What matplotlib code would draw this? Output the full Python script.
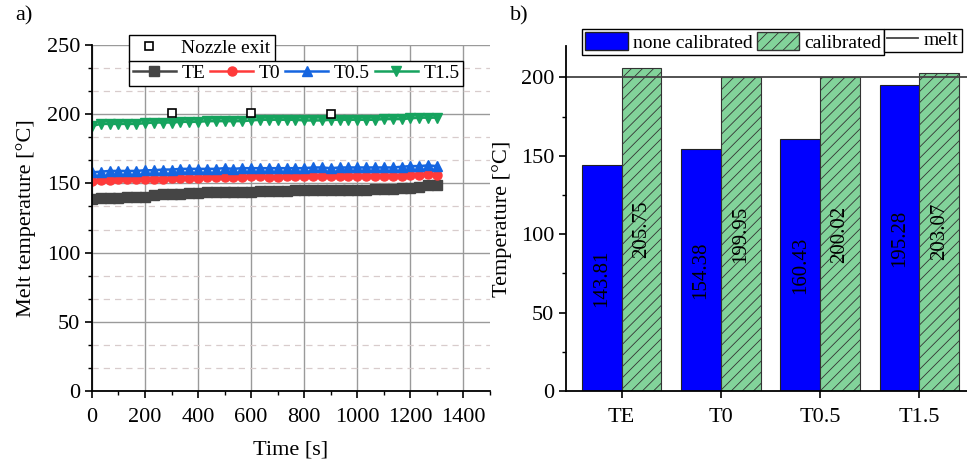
import numpy as np
import matplotlib
matplotlib.use("Agg")
import matplotlib.pyplot as plt
from matplotlib.ticker import MultipleLocator
from matplotlib.patches import Patch
from matplotlib.lines import Line2D

plt.rcParams["font.family"] = ["Liberation Serif", "DejaVu Serif"]
plt.rcParams["hatch.linewidth"] = 0.6
plt.rcParams["hatch.color"] = "#3a3a3a"

# --- data, panel a) ---
time_s = np.linspace(0, 1300, 40)
te = [139.0, 139.5, 139.5, 139.5, 140.0, 140.0, 140.5, 141.5, 142.0, 142.5,
      142.5, 143.0, 143.0, 143.5, 143.5, 143.5, 144.0, 144.0, 144.0, 144.5,
      144.5, 144.5, 144.5, 145.0, 145.0, 145.0, 145.0, 145.0, 145.5, 145.5,
      145.5, 145.5, 146.0, 146.0, 146.0, 146.5, 147.0, 147.5, 148.5, 149.0]
t0 = [152.0, 152.5, 152.5, 153.0, 153.0, 153.0, 153.5, 153.5, 153.5, 154.0,
      154.0, 154.0, 154.0, 154.5, 154.5, 154.5, 154.5, 154.5, 155.0, 155.0,
      154.5, 154.5, 155.0, 155.0, 155.0, 155.0, 155.0, 155.0, 155.0, 155.0,
      155.0, 155.0, 155.0, 155.0, 155.0, 155.5, 156.0, 156.0, 156.5, 156.0]
t05 = [158.0, 158.5, 159.0, 159.0, 159.0, 159.0, 159.5, 159.5, 160.0, 160.0,
       160.5, 160.5, 160.5, 160.5, 160.5, 161.0, 160.5, 161.0, 161.0, 161.0,
       161.0, 161.0, 161.0, 161.0, 161.0, 161.5, 161.5, 161.0, 161.5, 161.5,
       161.5, 161.5, 161.5, 161.5, 161.5, 162.0, 162.5, 162.5, 163.0, 162.5]
t15 = [191.5, 193.0, 193.0, 193.0, 193.0, 193.0, 193.5, 194.0, 194.0, 194.0,
       194.5, 194.5, 194.5, 195.0, 195.0, 195.0, 195.0, 195.0, 195.5, 196.0,
       196.0, 196.0, 196.0, 196.0, 195.5, 195.5, 195.5, 196.0, 196.0, 196.0,
       196.0, 196.0, 196.0, 196.5, 196.5, 196.5, 197.0, 197.5, 197.5, 197.5]
nozzle_t = [300, 600, 900]
nozzle_T = [201.0, 201.0, 200.0]

# --- data, panel b) ---
positions = ["TE", "T0", "T0.5", "T1.5"]
none_cal = [143.81, 154.38, 160.43, 195.28]
cal = [205.75, 199.95, 200.02, 203.07]
melt_T = 200

fig = plt.figure(figsize=(9.67, 4.61), dpi=100)

# ---------------- a) ----------------
ax1 = fig.add_axes([0.0951, 0.1518, 0.4116, 0.7506])
series = [("TE", te, "#454545", "s"),
          ("T0", t0, "#ff3a3a", "o"),
          ("T0.5", t05, "#1565e0", "^"),
          ("T1.5", t15, "#16a35e", "v")]
handles = []
for name, vals, col, mk in series:
    h, = ax1.plot(time_s, vals, color=col, marker=mk, markersize=6.5, lw=1.8, label=name)
    handles.append(h)
hn, = ax1.plot(nozzle_t, nozzle_T, ls="none", marker="s", markersize=5.5,
               mfc="white", mec="black", mew=1.2, label="Nozzle exit")

ax1.set_xlim(0, 1500)
ax1.set_ylim(0, 250)
ax1.xaxis.set_major_locator(MultipleLocator(200))
ax1.xaxis.set_minor_locator(MultipleLocator(100))
ax1.yaxis.set_major_locator(MultipleLocator(50))
ax1.yaxis.set_minor_locator(MultipleLocator(50 / 3))
ax1.set_xticks(range(0, 1401, 200))
ax1.grid(which="major", color="#9a9a9a", lw=1.0)
ax1.grid(which="minor", axis="y", color="#d8cccc", lw=0.9, ls=(0, (5, 4)))
ax1.set_axisbelow(True)
for s in ["top", "right"]:
    ax1.spines[s].set_visible(False)
for s in ["left", "bottom"]:
    ax1.spines[s].set_linewidth(1.3)
ax1.tick_params(which="major", direction="out", length=5, width=1.2, labelsize=16)
ax1.tick_params(axis="x", pad=7)
ax1.tick_params(which="minor", direction="out", length=3, width=1.0)
ax1.set_xlabel("Time [s]", fontsize=16, labelpad=10)
ax1.set_ylabel("Melt temperature [°C]", fontsize=16, labelpad=8)

leg_a = ax1.legend(handles=[hn], loc="upper left", bbox_to_anchor=(0.093, 1.03),
                   fontsize=14, frameon=True, fancybox=False, edgecolor="black",
                   framealpha=1, borderpad=0.25, handlelength=1.6, borderaxespad=0)
leg_a.get_frame().set_linewidth(1.0)
ax1.add_artist(leg_a)
leg_b = ax1.legend(handles=handles, loc="upper left", bbox_to_anchor=(0.093, 0.955),
                   ncol=4, fontsize=14, frameon=True, fancybox=False, edgecolor="black",
                   framealpha=1, borderpad=0.2, handlelength=2.2, handletextpad=0.3,
                   columnspacing=0.25, borderaxespad=0)
leg_b.get_frame().set_linewidth(1.0)

# ---------------- b) ----------------
ax2 = fig.add_axes([0.5853, 0.1518, 0.4230, 0.7484])
x = np.arange(len(positions))
w = 0.4
ax2.bar(x - w / 2, none_cal, w, color="#0000ff", edgecolor="#222222", lw=0.8)
ax2.bar(x + w / 2, cal, w, color="#82d39a", edgecolor="#333333", lw=0.8, hatch="///")
ax2.axhline(melt_T, color="#444444", lw=1.3)
for xi, v in zip(x, none_cal):
    ax2.text(xi - w / 2, v / 2, f"{v:.2f}", rotation=90, ha="center", va="center", fontsize=15)
for xi, v in zip(x, cal):
    ax2.text(xi + w / 2, v / 2, f"{v:.2f}", rotation=90, ha="center", va="center", fontsize=15)

ax2.set_xlim(-0.56, 3.56)
ax2.set_ylim(0, 220)
ax2.set_xticks(x)
ax2.set_xticklabels(positions)
ax2.yaxis.set_major_locator(MultipleLocator(50))
ax2.yaxis.set_minor_locator(MultipleLocator(25))
for s in ["top", "right"]:
    ax2.spines[s].set_visible(False)
for s in ["left", "bottom"]:
    ax2.spines[s].set_linewidth(1.3)
ax2.tick_params(which="major", direction="out", length=5, width=1.2, labelsize=16)
ax2.tick_params(axis="x", pad=7)
ax2.tick_params(which="minor", direction="out", length=3, width=1.0)
ax2.set_ylabel("Temperature [°C]", fontsize=16, labelpad=6)

leg_c = ax2.legend(handles=[Patch(facecolor="#0000ff", edgecolor="#222222"),
                            Patch(facecolor="#82d39a", edgecolor="#333333", hatch="///")],
                   labels=["none calibrated", "calibrated"], ncol=2,
                   loc="upper left", bbox_to_anchor=(0.04, 1.05), fontsize=14,
                   frameon=True, fancybox=False, edgecolor="black", framealpha=1,
                   borderpad=0.15, handlelength=2.2, handleheight=1.1,
                   handletextpad=0.25, columnspacing=0.2, borderaxespad=0)
leg_c.get_frame().set_linewidth(1.0)
ax2.add_artist(leg_c)
leg_d = ax2.legend(handles=[Line2D([], [], color="#444444", lw=1.3)], labels=["melt"],
                   loc="upper left", bbox_to_anchor=(0.778, 1.05), fontsize=14,
                   frameon=True, fancybox=False, edgecolor="black", framealpha=1,
                   borderpad=0.15, handlelength=1.6, handletextpad=0.3, borderaxespad=0)
leg_d.get_frame().set_linewidth(1.0)

fig.text(0.016, 0.955, "a)", fontsize=16)
fig.text(0.527, 0.955, "b)", fontsize=16)

fig.savefig("out.png", dpi=100)
